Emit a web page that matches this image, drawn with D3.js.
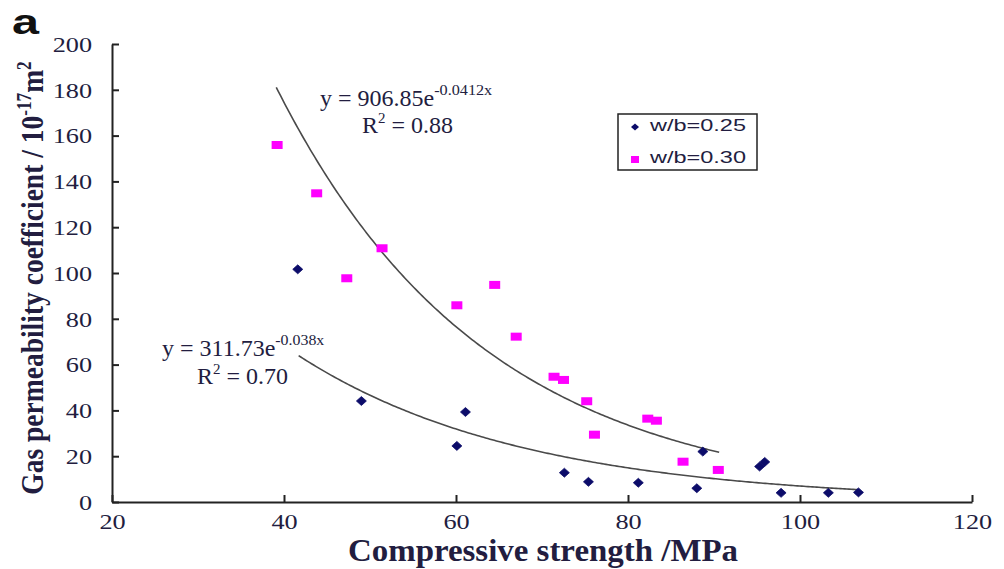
<!DOCTYPE html>
<html><head><meta charset="utf-8">
<script src="https://cdn.jsdelivr.net/npm/d3@7"></script>
<style>body{margin:0;background:#fff;} svg{display:block;}</style>
</head><body>
<svg id="c" width="1004" height="569"></svg>
<script>
// Data
const s025x = [41.6, 49.0, 60.1, 61.1, 72.6, 75.4, 81.2, 88.0, 88.7, 95.3, 95.9, 97.8, 103.3, 106.8];
const s025y = [101.6, 44.1, 24.5, 39.3, 12.8, 8.8, 8.4, 6.0, 22.0, 15.5, 17.5, 4.0, 4.0, 4.2];
const s030x = [39.2, 43.8, 47.3, 51.4, 60.1, 64.5, 67.0, 71.4, 72.5, 75.2, 76.1, 82.3, 83.3, 86.4, 90.5];
const s030y = [155.9, 134.8, 97.7, 110.8, 85.9, 94.8, 72.2, 54.7, 53.3, 44.0, 29.4, 36.4, 35.5, 17.6, 14.0];
const fit030 = {a: 906.85, b: -0.0412, x0: 39.1, x1: 90.6};
const fit025 = {a: 311.73, b: -0.038, x0: 41.7, x1: 106.9};
const xTicks = [20, 40, 60, 80, 100, 120];
const yTicks = [0, 20, 40, 60, 80, 100, 120, 140, 160, 180, 200];
const seriesNames = ["w/b=0.25", "w/b=0.30"];

const svg = d3.select("#c");
const L = 112, R = 972, T = 44, B = 502;
const x = d3.scaleLinear().domain([20, 120]).range([L, R]);
const y = d3.scaleLinear().domain([0, 200]).range([B, T]);
const textCol = "#221d40";
const serif = "'Liberation Serif','Times New Roman',serif";
const sans = "'Liberation Sans',Arial,sans-serif";

function stretch(sel, k) {
  sel.each(function() {
    const w = this.getComputedTextLength();
    d3.select(this).attr("textLength", w * k).attr("lengthAdjust", "spacingAndGlyphs");
  });
}

// axes
const xAxis = svg.append("g").attr("transform", `translate(0,${B})`)
  .call(d3.axisBottom(x).tickValues(xTicks).tickSizeInner(-7).tickSizeOuter(0).tickPadding(12));
const yAxis = svg.append("g").attr("transform", `translate(${L},0)`)
  .call(d3.axisLeft(y).tickValues(yTicks).tickSizeInner(-7).tickSizeOuter(0).tickPadding(20));
[xAxis, yAxis].forEach(g => {
  g.select(".domain").attr("stroke", "#222").attr("stroke-width", 2);
  g.selectAll(".tick line").attr("stroke", "#222").attr("stroke-width", 2);
  g.selectAll(".tick text").attr("font-family", serif).attr("font-size", 21).attr("fill", textCol);
});
yAxis.selectAll(".tick text").attr("dy", "0.35em");
stretch(xAxis.selectAll(".tick text"), 1.25);
stretch(yAxis.selectAll(".tick text"), 1.25);

// curves
function curve(f) {
  const pts = d3.range(f.x0, f.x1 + 0.001, 0.25).map(v => [v, f.a * Math.exp(f.b * v)]);
  pts.push([f.x1, f.a * Math.exp(f.b * f.x1)]);
  svg.append("path").datum(pts)
    .attr("d", d3.line().x(d => x(d[0])).y(d => y(d[1])))
    .attr("fill", "none").attr("stroke", "#4a4a4a").attr("stroke-width", 1.6);
}
curve(fit030);
curve(fit025);

// points
const diamondPath = "M0,-4.5L5,0L0,4.5L-5,0Z";
svg.append("g").selectAll("path").data(s025x.map((v, i) => [v, s025y[i]])).join("path")
  .attr("d", diamondPath).attr("transform", d => `translate(${x(d[0])},${y(d[1])})`)
  .attr("fill", "#0c0c6a").attr("stroke", "#0c0c6a").attr("stroke-width", 0.8).attr("stroke-linejoin", "round");
svg.append("g").selectAll("rect").data(s030x.map((v, i) => [v, s030y[i]])).join("rect")
  .attr("x", d => x(d[0]) - 5.5).attr("y", d => y(d[1]) - 4).attr("width", 11).attr("height", 8)
  .attr("fill", "#ff00ff");

// equations
function eq(xp, yp, a, ex, exLen, r2xp, r2yp, r2) {
  const t = svg.append("text").attr("x", xp).attr("y", yp).attr("font-family", serif)
    .attr("font-size", 24).attr("fill", textCol);
  t.append("tspan").text(`y = ${a}e`);
  t.append("tspan").attr("dy", -11).attr("font-size", 14)
    .attr("textLength", exLen).attr("lengthAdjust", "spacingAndGlyphs").text(ex);
  const r = svg.append("text").attr("x", r2xp).attr("y", r2yp).attr("font-family", serif)
    .attr("font-size", 24).attr("fill", textCol);
  r.append("tspan").text("R");
  r.append("tspan").attr("dy", -10).attr("font-size", 15).text("2");
  r.append("tspan").attr("dy", 10).text(` = ${r2}`);
}
eq(320, 106, "906.85", "-0.0412x", 58, 362, 133, "0.88");
eq(162, 356, "311.73", "-0.038x", 49, 197, 384, "0.70");

// legend
svg.append("rect").attr("x", 618).attr("y", 114).attr("width", 139).attr("height", 56)
  .attr("fill", "none").attr("stroke", "#222").attr("stroke-width", 1.5);
svg.append("path").attr("d", "M0,-3.5L4,0L0,3.5L-4,0Z").attr("transform", "translate(635,127)").attr("fill", "#0c0c6a");
svg.append("rect").attr("x", 631).attr("y", 156).attr("width", 8).attr("height", 7).attr("fill", "#ff00ff");
svg.append("text").attr("x", 650).attr("y", 131).attr("font-family", sans).attr("font-size", 16)
  .attr("fill", textCol).attr("textLength", 96).attr("lengthAdjust", "spacingAndGlyphs").text(seriesNames[0]);
svg.append("text").attr("x", 650).attr("y", 163).attr("font-family", sans).attr("font-size", 16)
  .attr("fill", textCol).attr("textLength", 96).attr("lengthAdjust", "spacingAndGlyphs").text(seriesNames[1]);

// axis titles
svg.append("text").attr("x", 543).attr("y", 561).attr("text-anchor", "middle")
  .attr("font-family", serif).attr("font-weight", "bold").attr("font-size", 32).attr("fill", textCol)
  .attr("textLength", 390).attr("lengthAdjust", "spacingAndGlyphs")
  .text("Compressive strength /MPa");
const yt = svg.append("text").attr("transform", "translate(43,278) rotate(-90) scale(0.86,1)").attr("text-anchor", "middle")
  .attr("font-family", serif).attr("font-weight", "bold").attr("font-size", 32).attr("fill", textCol);
yt.append("tspan").text("Gas permeability coefficient / 10");
yt.append("tspan").attr("dy", -12).attr("font-size", 20).text("-17");
yt.append("tspan").attr("dy", 12).text("m");
yt.append("tspan").attr("dy", -12).attr("font-size", 20).text("2");

svg.append("text").attr("x", 12).attr("y", 34).attr("font-family", sans)
  .attr("font-weight", "bold").attr("font-size", 35).attr("fill", "#111")
  .attr("textLength", 27).attr("lengthAdjust", "spacingAndGlyphs").text("a");
</script>
</body></html>
